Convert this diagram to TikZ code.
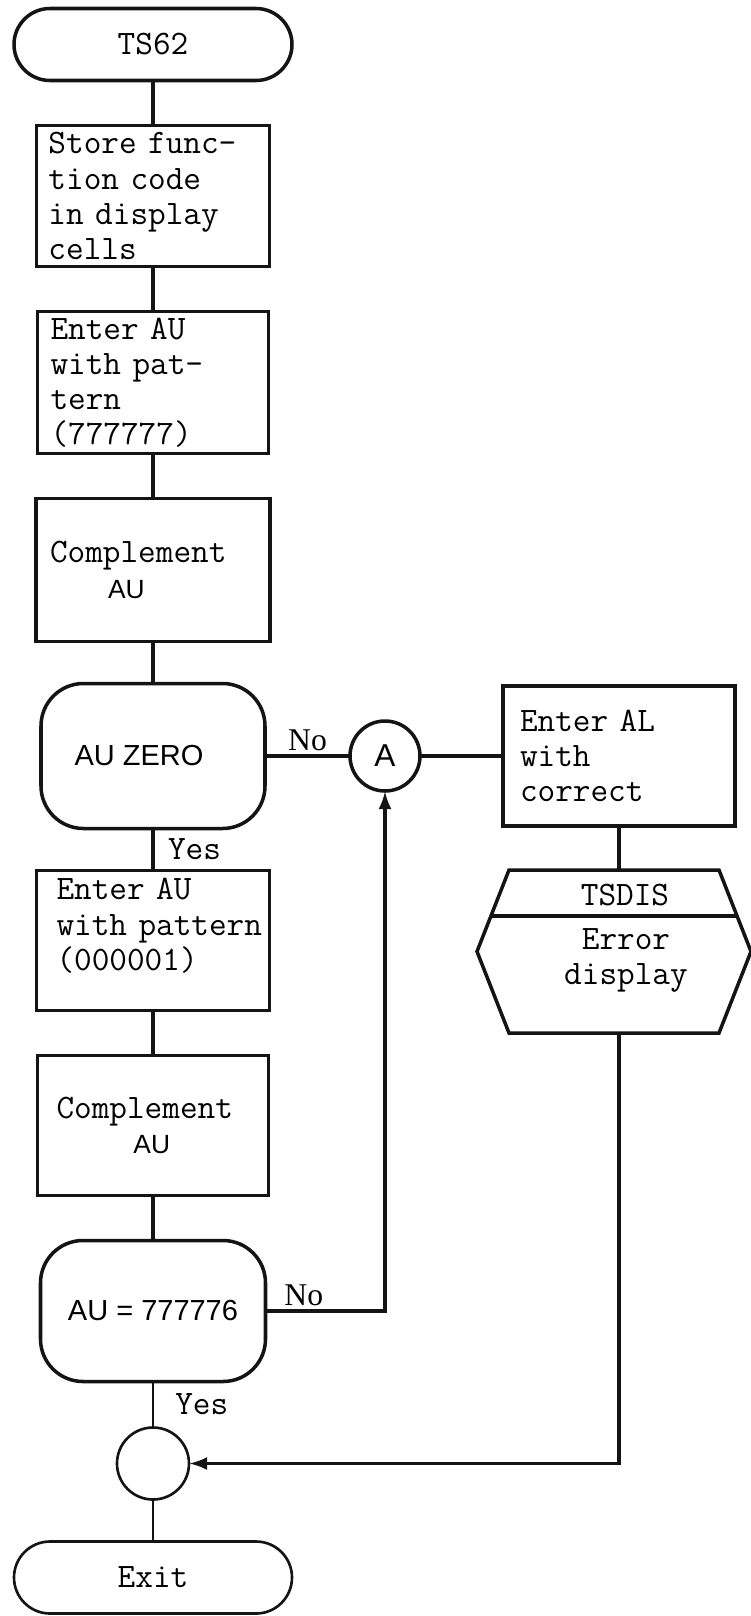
\documentclass[tikz,border=0pt]{standalone}
\usepackage{fontspec}
\setmonofont{Latin Modern Mono}
\newfontfamily\sansau{Liberation Sans}
\newfontfamily\serifno{Liberation Serif}
\usepackage{tikz}
\usetikzlibrary{arrows.meta,positioning,calc}
\usepackage{xcolor}
\definecolor{flowink}{HTML}{141414}
\tikzset{
  procbox/.style={
    draw=flowink,
    line width=2pt,
    outer sep=0pt,
    inner sep=0pt,
    minimum height=2.8cm,
    align=left,
    font=\ttfamily\fontsize{19.5}{20}\selectfont
  },
  termbox/.style={
    draw=flowink,
    line width=2pt,
    outer sep=0pt,
    rounded corners=0.72cm,
    minimum width=5.56cm,
    minimum height=1.44cm,
    font=\ttfamily\fontsize{19.5}{20}\selectfont
  },
  decbox/.style={
    draw=flowink,
    line width=2pt,
    outer sep=0pt,
    rounded corners=0.85cm,
    minimum width=4.48cm,
    minimum height=2.9cm,
    font=\sansau\fontsize{16.5}{20}\selectfont
  },
  joint/.style={
    circle,
    draw=flowink,
    line width=2pt,
    outer sep=0pt,
    inner sep=0pt,
    minimum size=1.4cm,
    font=\sansau\fontsize{18}{20}\selectfont
  },
  link/.style={draw=flowink, line width=1.8pt},
  arrow/.style={-{Latex[length=0.36cm,width=0.26cm]}, link},
  nolabel/.style={font=\serifno\fontsize{18}{20}\selectfont, inner sep=2pt},
  yeslabel/.style={font=\ttfamily\fontsize{19.5}{20}\selectfont, inner sep=2pt},
  monotext/.style={font=\ttfamily\fontsize{19.5}{20}\selectfont, inner sep=0pt, align=center}
}

\begin{document}
\begin{tikzpicture}[node distance=0.9cm]
\useasboundingbox (0,0) rectangle (15.02,-32.32);
% main column
\node[termbox] (start) at (3.06,-0.89) {TS62};
\node[procbox, below=of start, minimum width=4.66cm, minimum height=2.82cm, text width=4.18cm] (store) {Store func-\\tion code\\in display\\cells};
\node[procbox, below=of store, minimum width=4.62cm, minimum height=2.84cm, text width=4.1cm] (setall) {Enter AU\\with pat-\\tern\\(777777)};
\node[procbox, below=of setall, minimum width=4.68cm, minimum height=2.86cm, text width=4.12cm] (flip) {Complement\\\hspace*{1.16cm}{\sansau\fontsize{15}{20}\selectfont AU}};
\node[decbox, below=0.84cm of flip] (zero) {AU ZERO\hspace*{0.56cm}};
\node[procbox, below=0.84cm of zero, minimum width=4.66cm, text width=3.86cm, text depth=2.05cm] (setone) {Enter AU\\\mbox{with pattern}\\(000001)};
\node[procbox, below=of setone, minimum width=4.62cm, text width=3.86cm] (flipagain) {Complement\\\hspace*{1.54cm}{\sansau\fontsize{15}{20}\selectfont AU}};
\node[decbox, below=of flipagain, minimum width=4.5cm, minimum height=2.82cm] (check) {AU = 777776};
\node[joint, below=0.92cm of check, minimum size=1.44cm, line width=1.5pt] (join) {};
\node[termbox, below=0.84cm of join, line width=1.5pt] (exit) {Exit};

% error branch
\node[joint, right=1.7cm of zero] (conn) {A};
\node[procbox, right=1.66cm of conn, minimum width=4.64cm, text width=3.96cm] (loadal) {Enter AL\\with\\correct};
\node[below=0.88cm of loadal, xshift=-0.1cm, minimum width=5.48cm, minimum height=3.26cm, inner sep=0pt, outer sep=0pt] (errdisp) {};
\draw[link, line width=2pt] ($(errdisp.north west)+(0.64,0)$) -- ($(errdisp.north east)+(-0.64,0)$) -- (errdisp.east) -- ($(errdisp.south east)+(-0.64,0)$) -- ($(errdisp.south west)+(0.64,0)$) -- (errdisp.west) -- cycle;
\draw[link, line width=2pt] ($(errdisp.north west)+(0.28,-0.92)$) -- ($(errdisp.north east)+(-0.28,-0.92)$);
\node[monotext] (tsname) at ($(errdisp.north)+(0.22,-0.5)$) {TSDIS};
\node[monotext] (errtext) at ($(errdisp.north)+(0.24,-1.8)$) {Error\\display};

% connectors
\draw[link] (start) -- (store);
\draw[link] (store) -- (setall);
\draw[link] (setall) -- (flip);
\draw[link] (flip) -- (zero);
\draw[link] (zero) -- node[nolabel, above] (nozero) {No} (conn);
\draw[link] (conn) -- (loadal);
\draw[link] (loadal) -- (loadal |- errdisp.north);
\draw[link] (zero) -- node[yeslabel, right=0.2cm] (yeszero) {Yes} (setone);
\draw[link] (setone) -- (flipagain);
\draw[link] (flipagain) -- (check);
\draw[arrow] (check) -| node[nolabel, pos=0.16, above] (nocheck) {No} (conn);
\draw[link, line width=1.5pt] (check) -- node[yeslabel, right=0.35cm] (yescheck) {Yes} (join);
\draw[link, line width=1.5pt] (join) -- (exit);
\draw[arrow] (loadal |- errdisp.south) |- (join.east);
\end{tikzpicture}
\end{document}
